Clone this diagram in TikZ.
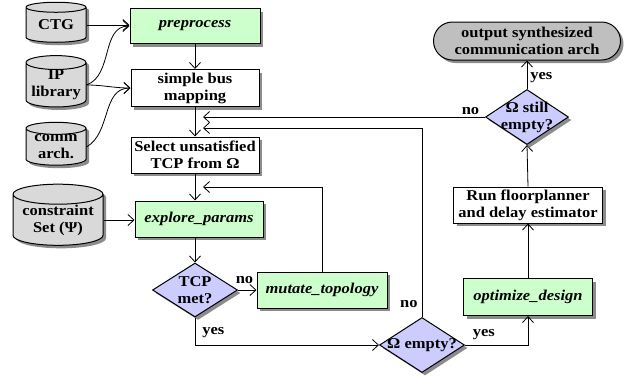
\documentclass[tikz,border=0pt]{standalone}
\usepackage{fontspec}
\setmainfont{Liberation Serif}[FakeStretch=1.1]
\usetikzlibrary{shapes.geometric,shapes.misc,shadows,arrows.meta}
\definecolor{boxgreen}{HTML}{CCFFCC}
\definecolor{diablue}{HTML}{CCCCFF}
\definecolor{cylgray}{HTML}{D9D9D9}
\definecolor{outgray}{HTML}{BFBFBF}
\begin{document}
\begin{tikzpicture}[x=1pt,y=-1pt,
  font=\fontsize{15}{17}\selectfont\bfseries,
  >={Straight Barb[length=6pt,width=11pt]},
  line width=0.8pt,
  shad/.style={drop shadow={shadow xshift=3pt,shadow yshift=-3pt,fill=black!45,opacity=1}},
  proc/.style={draw,line width=1pt,rectangle,fill=white,align=center,inner sep=1pt,shad},
  gproc/.style={proc,fill=boxgreen,font=\fontsize{15}{17}\selectfont\bfseries\itshape},
  db/.style={draw,line width=1pt,cylinder,shape border rotate=90,aspect=0.28,fill=cylgray,align=center,inner sep=0pt,shad},
  dec/.style={draw,line width=1pt,diamond,fill=diablue,inner sep=0pt,shad},
  lbl/.style={inner sep=0pt,font=\fontsize{15}{17}\selectfont\bfseries}
]
\useasboundingbox (0,0) rectangle (629,376);
% data stores
\node[db,minimum width=60pt,minimum height=40pt] (ctg) at (56,25) {CTG};
\node[db,minimum width=60pt,minimum height=50pt] (ip) at (56,85) {IP\\library};
\node[db,minimum width=60pt,minimum height=40pt] (comm) at (56,147) {comm\\arch.};
\node[db,minimum width=90pt,minimum height=46pt] (cons) at (58,220) {constraint\\Set (Ψ)};
% process boxes
\node[gproc,minimum width=130pt,minimum height=35pt] (pre) at (195,26) {preprocess};
\node[proc,minimum width=128pt,minimum height=37pt] (bus) at (195,88) {simple bus\\mapping};
\node[proc,minimum width=128pt,minimum height=36pt] (sel) at (195,155) {Select unsatisfied\\TCP from Ω};
\node[gproc,minimum width=128pt,minimum height=36pt] (exp) at (199,219) {explore\_params};
\node[dec,minimum width=85pt,minimum height=54pt,label={[lbl,align=center]center:TCP\\met?}] (tcp) at (195,290) {};
\node[gproc,minimum width=130pt,minimum height=36pt] (mut) at (322,290) {mutate\_topology};
\node[dec,minimum width=85pt,minimum height=55pt,label={[lbl]center:Ω empty?}] (emp) at (422,345) {};
\node[gproc,minimum width=129pt,minimum height=37pt] (opt) at (528,297) {optimize\_design};
\node[proc,minimum width=149pt,minimum height=36pt] (run) at (528,205) {Run floorplanner\\and delay estimator};
\node[dec,minimum width=83pt,minimum height=55pt,label={[lbl,align=center]center:Ω still\\empty?}] (still) at (527,117) {};
\node[draw,line width=1pt,rounded rectangle,fill=outgray,minimum width=189pt,minimum height=38pt,align=center,inner sep=1pt,shad] (out) at (527,41) {output synthesized\\communication arch};
% junctions
\coordinate (j1) at (195,117);
\coordinate (j2) at (195,128);
\coordinate (j3) at (195,187);
% connectors
\draw[->] (ctg.east) -- (ctg.east -| pre.west);
\draw[->] (ip.east) to[out=20,in=180] (pre.west);
\draw[->] (ip.east) to[out=0,in=180] (bus.west);
\draw[->] (comm.east) to[out=30,in=180] (bus.west);
\draw[->] (cons.east) -- (cons.east -| exp.west);
\draw[->] (pre.south) -- (bus.north);
\draw[->] (bus.south) -- (sel.north);
\draw[->] (sel.south) -- (sel.south |- exp.north);
\draw[->] (exp.south -| tcp.north) -- (tcp.north);
\draw[->] (tcp.east) -- (mut.west) node[lbl,pos=0.35,above=6pt] {no};
\draw[->,shorten >=8pt] (mut.north) |- (j3);
\draw[->] (tcp.south) |- (emp.west) node[lbl,pos=0.28,right=7pt] {yes};
\draw[->] (emp.east) -| (opt.south) node[lbl,pos=0.15,above=5pt] {yes};
\draw[->] (opt.north) -- (run.south);
\draw[->] (run.north) -- (still.south);
\draw[->] (still.north) -- (out.south) node[lbl,pos=0.4,right=3pt] {yes};
\draw[->,shorten >=8pt] (still.west) -- (j1) node[lbl,pos=0.05,above=2pt] {no};
\draw[->,shorten >=8pt] (emp.north) |- (j2) node[lbl,pos=0.035,left=4pt] {no};
\end{tikzpicture}
\end{document}
